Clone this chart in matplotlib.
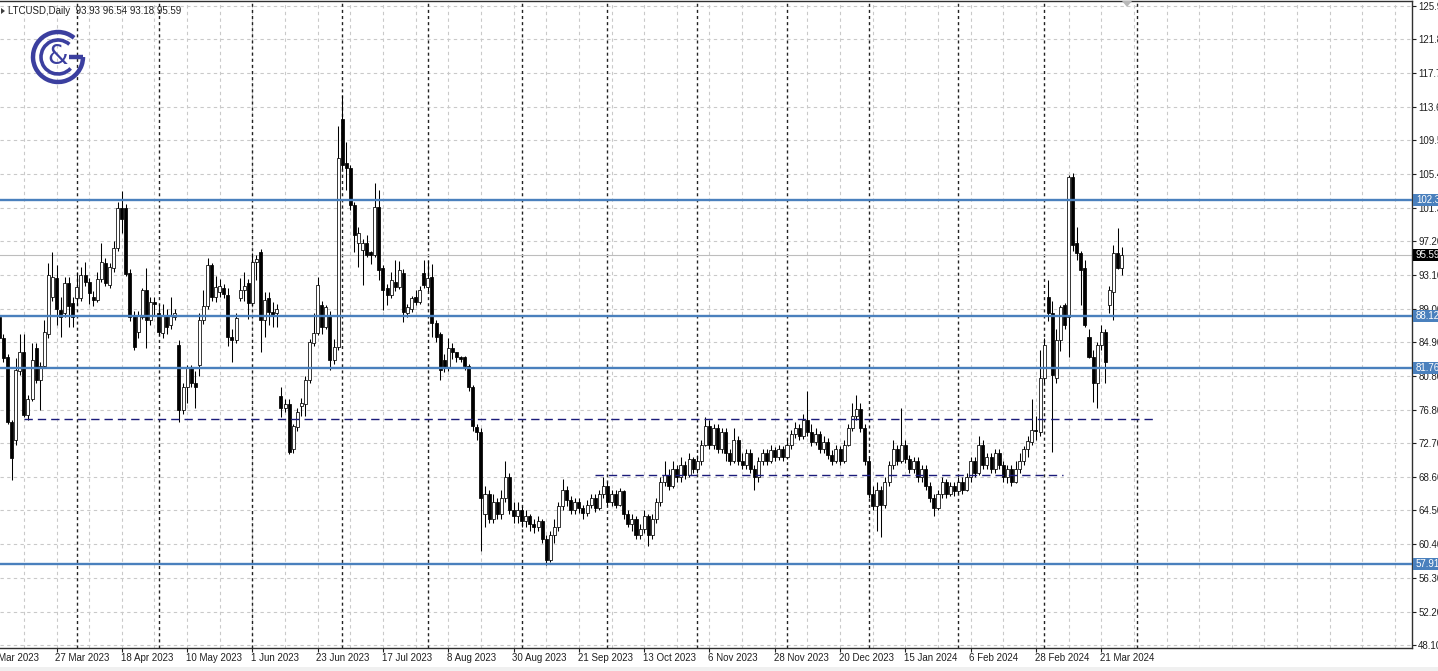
import matplotlib
matplotlib.use("Agg")
import matplotlib.pyplot as plt
from matplotlib.patches import Arc, Rectangle, Polygon
import matplotlib.transforms as mtransforms

plt.rcParams['font.family'] = ['Liberation Sans', 'DejaVu Sans']

# ---------------- data ----------------
symbol_text = "LTCUSD,Daily"
header_ohlc = ["93.93", "96.54", "93.18", "95.59"]

opens = [
    88.0, 85.5, 83.2, 75.3, 73.1, 81.4, 83.7, 76.1, 78.0, 84.3,
    80.4, 82.0, 85.9, 90.5, 92.8, 88.9, 88.5, 92.2, 89.7, 90.3,
    90.3, 93.1, 92.3, 90.5, 90.1, 92.6, 94.6, 91.9, 94.0, 96.4,
    101.3, 101.3, 93.4, 88.3, 86.2, 88.0, 91.3, 87.7, 89.9, 88.5,
    86.1, 88.3, 87.0, 88.0, 84.6, 76.7, 79.5, 81.8, 80.0, 82.2,
    87.7, 89.3, 94.3, 90.5, 91.0, 91.5, 90.7, 85.6, 85.2, 90.3,
    91.3, 92.2, 89.7, 94.7, 95.9, 87.7, 90.3, 88.6, 88.5, 78.4,
    77.0, 77.4, 71.9, 74.6, 77.2, 77.4, 80.4, 84.9, 86.1, 89.5,
    86.8, 88.3, 82.8, 84.4, 112.1, 106.7, 106.2, 101.6, 97.0, 96.2,
    97.0, 95.9, 95.6, 101.4, 94.0, 91.5, 90.7, 92.3, 91.7, 93.4,
    88.5, 89.0, 90.5, 89.9, 93.4, 91.7, 92.9, 87.3, 85.9, 82.8,
    81.8, 84.3, 83.8, 83.1, 83.1, 82.0, 79.5, 74.6, 74.0, 64.0,
    66.5, 63.5, 65.5, 64.0, 66.0, 68.5, 64.5, 63.8, 64.5, 63.2,
    63.8, 62.8, 62.5, 63.2, 61.0, 58.5, 61.5, 62.5, 65.0, 67.0,
    65.8, 64.5, 65.5, 64.8, 64.2, 65.2, 66.0, 64.8, 66.5, 67.5,
    65.5, 66.5, 65.2, 66.8, 64.0, 62.8, 63.5, 61.5, 62.2, 63.8,
    61.5, 63.5, 65.5, 68.0, 68.8, 67.5, 69.5, 68.5, 70.0, 68.8,
    70.8, 69.5, 70.5, 72.5, 74.8, 72.5, 74.5, 72.0, 74.0, 71.5,
    70.5, 73.0, 70.5, 70.0, 71.5, 69.5, 68.5, 70.5, 71.5, 70.5,
    71.8, 71.0, 72.0, 71.0, 72.5, 73.8, 74.5, 73.5, 75.5, 74.0,
    72.8, 73.8, 72.0, 72.8, 71.2, 70.5, 72.0, 70.5, 72.5, 74.5,
    76.0, 76.8, 74.5, 70.5, 66.5, 65.0, 67.0, 65.2, 68.0, 70.0,
    72.0, 70.5, 72.5, 70.8, 69.5, 70.5, 68.5, 69.5, 67.5, 66.0,
    64.8, 66.5, 68.0, 66.5, 67.5, 66.8, 68.0, 67.0, 68.5, 70.5,
    69.0, 72.5, 70.0, 71.0, 69.5, 71.5, 70.0, 68.5, 69.5, 68.0,
    69.5, 70.5, 71.9, 72.8, 74.3, 74.0, 80.6, 90.5, 88.5, 80.6,
    85.2, 89.5, 88.0, 105.0, 97.0, 95.8, 94.0, 85.6, 83.1, 80.0,
    84.6, 86.2, 89.5, 91.1, 95.8, 93.93,
]
highs = [
    89.0, 86.0, 83.5, 75.5, 83.0, 85.9, 85.9, 78.5, 84.9, 84.9,
    82.5, 87.7, 94.6, 95.9, 94.3, 90.5, 92.9, 92.9, 90.5, 93.5,
    94.1, 94.7, 92.8, 91.2, 93.5, 97.0, 95.2, 94.6, 97.3, 102.0,
    103.3, 101.8, 93.8, 88.8, 88.8, 91.5, 94.0, 90.5, 90.5, 89.6,
    89.6, 89.0, 90.5, 89.0, 85.2, 80.0, 82.2, 82.2, 81.5, 88.5,
    91.3, 95.2, 94.6, 93.0, 92.6, 92.0, 91.5, 86.5, 88.5, 92.8,
    93.5, 92.6, 95.8, 95.5, 96.3, 91.0, 91.0, 89.8, 89.6, 79.5,
    78.0, 78.0, 75.0, 76.9, 78.2, 80.8, 85.4, 88.5, 92.9, 90.0,
    89.5, 88.8, 85.3, 111.3, 115.0, 109.3, 106.5, 102.0, 99.0, 97.5,
    98.0, 96.0, 104.3, 103.5, 94.3, 92.0, 93.5, 95.0, 94.8, 93.8,
    89.6, 90.6, 91.3, 91.8, 95.0, 95.0, 94.5, 87.6, 86.2, 83.5,
    85.5, 84.8, 83.8, 83.3, 83.3, 82.3, 79.8, 75.0, 74.5, 67.5,
    67.0, 66.5, 66.0, 67.0, 70.5, 69.0, 65.5, 65.5, 65.0, 64.5,
    64.0, 63.5, 63.8, 63.5, 61.5, 62.0, 63.5, 65.5, 68.3, 67.5,
    66.2, 66.0, 66.0, 65.2, 65.8, 66.5, 66.5, 67.0, 68.5, 68.0,
    67.0, 67.0, 67.2, 67.0, 64.5, 64.0, 63.8, 62.8, 64.5, 64.0,
    64.0, 66.0, 68.5, 70.5, 69.5, 70.5, 70.0, 71.0, 70.5, 71.5,
    71.0, 71.2, 73.0, 75.8, 75.5, 75.0, 75.0, 74.5, 74.5, 72.0,
    74.5, 73.5, 71.5, 72.0, 72.0, 70.0, 71.0, 72.0, 72.0, 72.5,
    72.2, 72.5, 72.3, 73.2, 74.3, 75.3, 75.0, 76.2, 79.0, 75.0,
    74.5, 74.2, 73.5, 73.3, 71.8, 72.5, 72.3, 73.0, 75.0, 77.5,
    78.5, 77.5, 75.0, 71.0, 67.5, 68.0, 67.5, 68.5, 70.5, 73.0,
    72.5, 77.0, 73.0, 71.2, 71.0, 71.0, 70.0, 70.0, 68.0, 66.5,
    67.0, 68.5, 68.3, 68.0, 68.0, 68.5, 68.5, 69.0, 71.0, 71.0,
    73.5, 73.0, 71.5, 71.5, 72.0, 72.0, 70.5, 70.0, 70.0, 70.5,
    71.5, 72.3, 73.5, 78.0, 76.0, 84.0, 85.5, 92.5, 90.0, 86.5,
    89.5, 89.7, 105.3, 105.5, 99.0, 96.0, 95.0, 86.5, 84.0, 85.0,
    87.0, 86.5, 91.8, 96.8, 98.8, 96.54,
]
lows = [
    84.5, 82.5, 75.0, 68.2, 72.5, 81.0, 75.8, 75.5, 77.8, 80.0,
    76.7, 81.8, 85.5, 90.0, 87.0, 85.6, 88.0, 86.8, 86.8, 89.5,
    90.0, 91.8, 89.6, 89.4, 89.8, 92.3, 91.8, 91.5, 93.5, 96.0,
    98.2, 93.0, 87.5, 84.0, 85.5, 87.8, 84.3, 87.0, 88.3, 85.8,
    85.5, 86.0, 86.5, 87.7, 75.2, 76.2, 77.5, 79.5, 77.0, 80.8,
    87.2, 89.0, 90.0, 89.8, 90.5, 90.3, 84.5, 82.6, 84.8, 90.0,
    90.0, 87.8, 89.3, 92.5, 83.8, 85.6, 87.0, 86.8, 86.8, 75.8,
    76.5, 71.3, 71.5, 74.2, 76.0, 76.0, 80.0, 84.5, 85.8, 86.0,
    86.5, 81.6, 82.3, 84.0, 106.0, 103.5, 101.0, 95.9, 94.1, 91.9,
    95.3, 94.5, 95.3, 92.5, 88.9, 89.5, 90.3, 91.2, 91.4, 87.4,
    88.0, 88.6, 89.5, 89.6, 91.6, 91.2, 85.6, 85.0, 80.4, 81.3,
    81.5, 82.9, 82.6, 82.5, 81.6, 79.0, 74.2, 73.0, 59.5, 62.5,
    63.0, 63.0, 63.5, 63.5, 65.5, 64.0, 63.0, 63.0, 62.5, 62.5,
    62.0, 61.8, 62.0, 60.5, 57.9, 58.2, 60.5, 62.0, 64.5, 65.0,
    64.0, 64.0, 64.2, 63.5, 63.8, 64.8, 64.3, 64.5, 66.0, 65.0,
    65.0, 64.8, 65.0, 63.5, 62.5, 62.0, 61.0, 61.0, 61.8, 60.2,
    61.0, 63.0, 65.0, 67.5, 67.0, 67.2, 68.0, 68.0, 68.3, 68.5,
    69.0, 69.0, 70.0, 72.3, 72.0, 72.0, 71.5, 71.5, 70.5, 70.0,
    70.2, 70.0, 69.5, 69.5, 69.0, 67.0, 68.0, 70.0, 70.0, 70.2,
    70.5, 70.6, 70.5, 70.8, 72.0, 73.3, 73.0, 73.2, 73.5, 72.3,
    72.5, 71.5, 71.5, 70.8, 70.0, 70.2, 70.0, 70.2, 72.3, 74.2,
    75.5, 74.0, 70.0, 66.0, 64.5, 62.0, 61.2, 64.8, 67.5, 69.5,
    70.0, 70.2, 70.3, 69.0, 69.0, 68.0, 68.0, 67.0, 65.5, 63.8,
    64.5, 66.0, 66.0, 66.2, 66.3, 66.5, 66.5, 66.8, 68.0, 68.5,
    68.8, 69.5, 69.5, 69.0, 69.0, 69.5, 68.0, 67.8, 67.5, 67.8,
    69.0, 70.0, 71.0, 72.5, 73.0, 73.5, 80.0, 87.5, 71.6, 80.0,
    83.9, 86.5, 83.2, 96.0, 95.0, 89.5, 86.8, 83.0, 77.7, 77.0,
    84.0, 80.0, 88.5, 87.7, 93.8, 93.18,
]
closes = [
    85.5, 83.0, 75.3, 70.9, 81.6, 83.7, 76.1, 78.0, 82.8, 80.4,
    82.0, 86.2, 93.1, 92.9, 89.0, 88.0, 92.2, 89.3, 88.0, 91.7,
    93.1, 92.3, 90.9, 90.1, 92.6, 94.7, 92.2, 94.1, 96.4, 101.3,
    100.0, 93.3, 88.0, 84.4, 88.3, 91.3, 87.7, 89.9, 89.6, 86.2,
    88.3, 86.8, 88.3, 88.5, 76.7, 79.5, 81.8, 80.0, 79.5, 87.7,
    89.3, 94.3, 90.5, 91.7, 91.8, 90.8, 85.6, 85.2, 87.9, 91.3,
    91.8, 89.7, 94.7, 95.1, 87.7, 90.1, 88.6, 88.2, 89.0, 77.0,
    77.4, 71.6, 74.7, 76.5, 77.5, 80.4, 85.0, 86.1, 91.9, 86.8,
    89.2, 82.8, 84.4, 107.3, 106.5, 106.2, 101.6, 98.0, 98.2, 97.0,
    95.6, 95.6, 101.4, 93.7, 91.3, 90.7, 92.5, 91.7, 93.7, 88.6,
    89.2, 90.3, 89.9, 91.3, 91.9, 92.8, 87.3, 85.6, 81.6, 81.8,
    84.3, 83.8, 83.1, 82.9, 82.0, 79.5, 74.7, 74.0, 66.0, 66.5,
    63.5, 65.5, 64.0, 66.0, 68.5, 64.5, 63.8, 64.5, 63.2, 63.8,
    62.8, 62.5, 63.2, 61.0, 58.5, 61.5, 62.5, 65.0, 67.0, 65.8,
    64.5, 65.5, 64.8, 64.2, 65.2, 66.0, 64.8, 66.5, 67.5, 65.5,
    66.5, 65.2, 66.8, 64.0, 62.8, 63.5, 61.5, 62.2, 63.8, 61.5,
    63.5, 65.5, 68.0, 68.8, 67.5, 69.5, 68.5, 70.0, 68.8, 70.8,
    69.5, 70.5, 72.5, 74.8, 72.5, 74.5, 72.0, 74.0, 71.5, 70.5,
    73.0, 70.5, 70.0, 71.5, 69.5, 68.5, 70.5, 71.5, 70.5, 71.8,
    71.0, 72.0, 71.0, 72.5, 73.8, 74.5, 73.5, 75.5, 74.0, 72.8,
    73.8, 72.0, 72.8, 71.2, 70.5, 72.0, 70.5, 72.5, 74.5, 76.0,
    76.8, 74.5, 70.5, 66.5, 65.0, 67.0, 65.2, 68.0, 70.0, 72.0,
    70.5, 72.5, 70.8, 69.5, 70.5, 68.5, 69.5, 67.5, 66.0, 64.8,
    66.5, 68.0, 66.5, 67.5, 66.8, 68.0, 67.0, 68.5, 70.5, 69.0,
    72.5, 70.0, 71.0, 69.5, 71.5, 70.0, 68.5, 69.5, 68.0, 69.5,
    70.5, 71.9, 72.9, 74.3, 74.1, 80.6, 84.6, 88.5, 81.0, 85.2,
    89.2, 87.1, 105.0, 96.8, 95.8, 93.7, 87.1, 83.1, 80.0, 84.6,
    86.2, 82.6, 91.3, 95.8, 94.0, 95.59,
]

date_labels = ["3 Mar 2023", "27 Mar 2023", "18 Apr 2023", "10 May 2023", "1 Jun 2023",
               "23 Jun 2023", "17 Jul 2023", "8 Aug 2023", "30 Aug 2023", "21 Sep 2023",
               "13 Oct 2023", "6 Nov 2023", "28 Nov 2023", "20 Dec 2023", "15 Jan 2024",
               "6 Feb 2024", "28 Feb 2024", "21 Mar 2024"]
date_label_bars = [-2, 14, 30, 46, 62, 78, 94, 110, 126, 142, 158, 174, 190, 206, 222, 238, 254, 270]
month_start_bars = [19, 39, 62, 84, 105, 128, 149, 171, 193, 213, 235, 256, 278.8]

price_tick_labels = ["48.10", "52.20", "56.30", "60.40", "64.50", "68.60", "72.70", "76.80",
                     "80.80", "84.90", "89.00", "93.10", "97.20", "101.30", "105.40", "109.50",
                     "113.60", "117.70", "121.80", "125.90"]
price_tick_values = [48.10, 52.19, 56.29, 60.38, 64.48, 68.57, 72.67, 76.76, 80.86, 84.95,
                     89.05, 93.14, 97.24, 101.33, 105.43, 109.52, 113.62, 117.71, 121.81, 125.90]

level_values = [102.25, 88.12, 81.76, 57.91]
level_labels = ["102.30", "88.12", "81.76", "57.91"]
current_price = 95.59
dashed_levels = [(75.61, 6.0, 282.6), (68.80, 146.0, 260.6)]

# ---------------- figure ----------------
W, H = 1438, 671
fig = plt.figure(figsize=(W / 100, H / 100), dpi=100)
fig.patch.set_facecolor('white')

ax_left_px, ax_right_px, ax_top_px, ax_bot_px = 0, 1412, 1, 648
ax = fig.add_axes([ax_left_px / W, 1 - ax_bot_px / H,
                   (ax_right_px - ax_left_px) / W, (ax_bot_px - ax_top_px) / H])
px_per_bar = 4.081
px0 = -0.63
ax.set_xlim((0 - px0) / px_per_bar, (ax_right_px - px0) / px_per_bar)
ax.set_ylim(47.75, 126.46)

grid_kw = dict(color='#c9c9c9', lw=0.8, linestyle=(0, (3, 3)), zorder=0.5)
for v in price_tick_values:
    ax.axhline(v, **grid_kw)
gx = 6
while gx < 350:
    ax.axvline(gx, **grid_kw)
    gx += 8
for m in month_start_bars:
    ax.axvline(m, color='#222222', lw=1.0, linestyle=(0, (2.2, 2.2)), zorder=0.8)

ax.axhline(current_price, color='#bdbdbd', lw=0.8, zorder=1)

# candles
xs = list(range(len(closes)))
ax.vlines(xs, lows, highs, color='black', lw=0.75, zorder=3)
bottoms = [min(o, c) for o, c in zip(opens, closes)]
heights = [max(abs(c - o), 0.14) for o, c in zip(opens, closes)]
fills = ['white' if c >= o else 'black' for o, c in zip(opens, closes)]
ax.bar(xs, heights, bottom=bottoms, width=0.74, color=fills, edgecolor='black',
       linewidth=0.55, zorder=4)

# levels
for v in level_values:
    ax.axhline(v, color='#4a80bd', lw=1.7, zorder=5)
for (v, x1, x2) in dashed_levels:
    ax.hlines(v, x1, x2, colors='#1b1b7a', lw=1.0, linestyles=(0, (6, 3.6)), zorder=5)

# axes styling
ax.spines['left'].set_visible(False)
for s in ['top', 'right', 'bottom']:
    ax.spines[s].set_color('#303030')
    ax.spines[s].set_linewidth(1.0)
ax.yaxis.tick_right()
ax.set_yticks(price_tick_values)
ax.set_yticklabels(price_tick_labels)
ax.tick_params(axis='y', direction='out', length=3, width=0.8, pad=1.5,
               labelsize=7, colors='#202020')
in_range = [b for b in date_label_bars if b >= 0]
ax.set_xticks(in_range)
ax.set_xticklabels([])
ax.tick_params(axis='x', direction='out', length=3, width=0.8, colors='#202020')

blend_x = mtransforms.blended_transform_factory(ax.transData, ax.transAxes)
for b, lab in zip(date_label_bars, date_labels):
    ax.text(b - 0.3, -0.0085, lab, transform=blend_x, ha='left', va='top',
            fontsize=7, color='#202020', clip_on=False)

blend_y = mtransforms.blended_transform_factory(ax.transAxes, ax.transData)
box_h = 12 / 8.22
for v, lab in zip(level_values, level_labels):
    ax.add_patch(Rectangle((1.0008, v - box_h / 2), 0.03, box_h, transform=blend_y,
                           facecolor='#4a80bd', edgecolor='none', clip_on=False, zorder=6))
    ax.text(1.0028, v, lab, transform=blend_y, ha='left', va='center', fontsize=7,
            color='white', clip_on=False, zorder=7)
ax.add_patch(Rectangle((1.0008, current_price - box_h / 2), 0.03, box_h, transform=blend_y,
                       facecolor='black', edgecolor='none', clip_on=False, zorder=6))
ax.text(1.0028, current_price, f"{current_price:.2f}", transform=blend_y, ha='left',
        va='center', fontsize=7, color='white', clip_on=False, zorder=7)

# overlay in figure pixels (y up)
ov = fig.add_axes([0, 0, 1, 1], facecolor='none')
ov.set_xlim(0, W)
ov.set_ylim(0, H)
ov.axis('off')

ov.add_patch(Rectangle((0, 0), W, 4, facecolor='#f0f0f0', edgecolor='none'))
ov.text(8, H - 11, symbol_text + "  " + " ".join(header_ohlc), fontsize=7,
        color='#202020', ha='left', va='center')
ov.add_patch(Polygon([[1, H - 8], [5, H - 11], [1, H - 14]], closed=True,
                     facecolor='#404040', edgecolor='none'))
ov.add_patch(Polygon([[1122, H - 1], [1132, H - 1], [1127, H - 7]], closed=True,
                     facecolor='#b8b8b8', edgecolor='none'))

logo_c = '#3b3f9f'
cx, cy = 58, H - 57
ov.add_patch(Arc((cx, cy), 50, 50, theta1=50, theta2=360, lw=3.2, color=logo_c))
ov.plot([cx + 11, cx + 25], [cy, cy], color=logo_c, lw=3.2, solid_capstyle='butt')
ov.add_patch(Arc((cx, cy), 34, 34, theta1=48, theta2=318, lw=2.6, color=logo_c))
ov.text(cx - 0.5, cy - 0.5, "&", fontsize=19, color=logo_c, ha='center', va='center',
        family='DejaVu Sans')

fig.savefig("out.png", dpi=100)
